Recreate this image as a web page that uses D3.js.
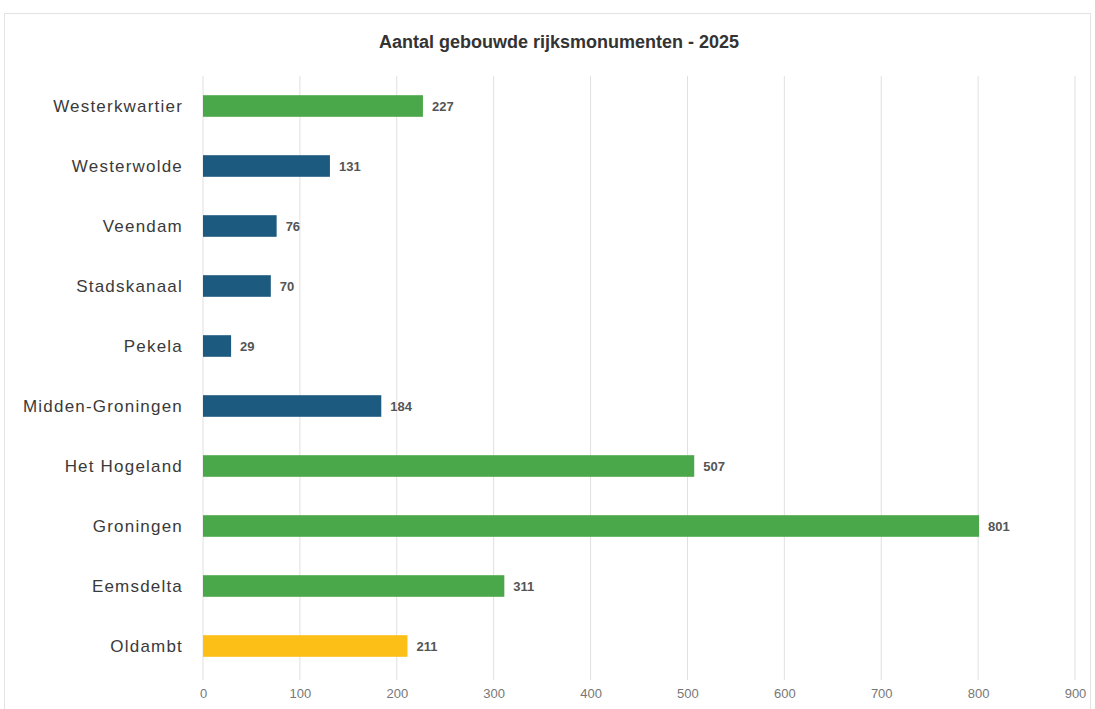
<!DOCTYPE html>
<html>
<head>
<meta charset="utf-8">
<script src="https://cdn.jsdelivr.net/npm/d3@7"></script>
<style>
  body { margin: 0; background: #fff; }
  text { font-family: "Liberation Sans", Arial, sans-serif; }
</style>
</head>
<body>
<script>
// gemeenten, top to bottom as in the chart
var categories = ["Westerkwartier", "Westerwolde", "Veendam", "Stadskanaal", "Pekela",
  "Midden-Groningen", "Het Hogeland", "Groningen", "Eemsdelta", "Oldambt"];
var values = [227, 131, 76, 70, 29, 184, 507, 801, 311, 211];
var groups = ["g", "b", "b", "b", "b", "b", "g", "g", "g", "y"];
var ticks = [0, 100, 200, 300, 400, 500, 600, 700, 800, 900];

var colors = { g: "#4aa74a", b: "#1d5a80", y: "#fbbf18" };

var W = 1095, H = 709;
var margin = {top: 76, right: 20, bottom: 33, left: 203};

var svg = d3.select("body").append("svg")
  .attr("width", W)
  .attr("height", H);

// chart frame
svg.append("rect")
  .attr("x", 4.5).attr("y", 13.5)
  .attr("width", W - 9).attr("height", H - 10)
  .attr("fill", "#fff")
  .attr("stroke", "#e3e3e3");

var x = d3.scaleLinear().domain([0, 900]).range([margin.left, 1075]);
var y = d3.scaleBand().domain(categories).range([margin.top, 676]).paddingInner(0.64).paddingOuter(0.32);

// gridlines
svg.append("g").selectAll("line")
  .data(ticks)
  .join("line")
  .attr("x1", function(d) { return x(d); })
  .attr("x2", function(d) { return x(d); })
  .attr("y1", margin.top)
  .attr("y2", 680)
  .attr("stroke", "#e0e0e0")
  .attr("stroke-width", 1);

svg.append("g").selectAll("rect")
  .data(values)
  .join("rect")
  .attr("x", x(0))
  .attr("y", function(d, i) { return y(categories[i]); })
  .attr("width", function(d) { return x(d) - x(0); })
  .attr("height", y.bandwidth())
  .attr("fill", function(d, i) { return colors[groups[i]]; });

// value labels
svg.append("g").selectAll("text")
  .data(values)
  .join("text")
  .attr("x", function(d) { return x(d) + 9; })
  .attr("y", function(d, i) { return y(categories[i]) + y.bandwidth() / 2; })
  .attr("dy", "0.35em")
  .attr("font-size", 13)
  .attr("font-weight", "bold")
  .attr("fill", "#555")
  .text(function(d) { return d; });

// category labels
svg.append("g").selectAll("text")
  .data(categories)
  .join("text")
  .attr("x", 183)
  .attr("y", function(d) { return y(d) + y.bandwidth() / 2; })
  .attr("dy", "0.35em")
  .attr("text-anchor", "end")
  .attr("font-size", 17)
  .attr("letter-spacing", 1.2)
  .attr("fill", "#3a3a3a")
  .text(function(d) { return d; });

// x axis labels
var xAxis = d3.axisBottom(x).tickValues(ticks).tickSize(0).tickPadding(0);
var ax = svg.append("g")
  .attr("transform", "translate(0,689)")
  .call(xAxis);
ax.select(".domain").remove();
ax.selectAll("text")
  .attr("font-size", 13)
  .attr("fill", "#777")
  .style("font-family", "'Liberation Sans', sans-serif");

svg.append("text")
  .attr("x", 559)
  .attr("y", 48)
  .attr("text-anchor", "middle")
  .attr("font-size", 18)
  .attr("font-weight", "bold")
  .attr("fill", "#333")
  .text("Aantal gebouwde rijksmonumenten - 2025");
</script>
</body>
</html>
